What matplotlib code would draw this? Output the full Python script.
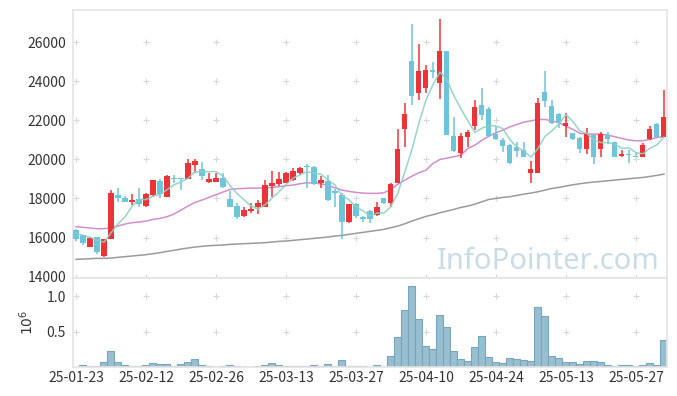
import numpy as np
import matplotlib.pyplot as plt

plt.rcParams['font.family'] = ['Noto Sans CJK KR', 'DejaVu Sans']

# trading days (Jan 23 - Jun 2, 2025)
dates = (["2025-01-%02d" % d for d in [23, 24, 31]]
         + ["2025-02-%02d" % d for d in [3, 4, 5, 6, 7, 10, 11, 12, 13, 14, 17, 18, 19, 20, 21, 24, 25, 26, 27, 28]]
         + ["2025-03-%02d" % d for d in [4, 5, 6, 7, 10, 11, 12, 13, 14, 17, 18, 19, 20, 21, 24, 25, 26, 27, 28, 31]]
         + ["2025-04-%02d" % d for d in [1, 2, 3, 4, 7, 8, 9, 10, 11, 14, 15, 16, 17, 18, 21, 22, 23, 24, 25, 28, 29, 30]]
         + ["2025-05-%02d" % d for d in [2, 7, 8, 9, 12, 13, 14, 15, 16, 19, 20, 21, 22, 23, 26, 27, 28, 29, 30]]
         + ["2025-06-02"])

opens = [16386, 16114, 15535, 16012, 15058, 15943, 18175, 18021, 17817, 17987,
         17630, 18175, 18890, 18090, 19027, 19027, 19010, 19725, 19486, 18856,
         18856, 19044, 17953, 17613, 17119, 17358, 17545, 17579, 18652, 18737,
         18805, 18941, 19299, 19673, 19588, 18805, 18907, 18379, 18175, 16812,
         17715, 17034, 17358, 17153, 18038, 17783, 18805, 21547, 25022, 23370,
         23626, 24545, 23915, 25533, 21190, 20338, 21156, 21701, 22757, 22569,
         21292, 20985, 20730, 20644, 20474, 19316, 19316, 23438, 22722, 22314,
         21718, 21326, 21087, 20508, 21241, 20542, 21241, 20866, 20185, 20253,
         20151, 20099, 21019, 21803, 21156]
highs = [16420, 16148, 16012, 16046, 15943, 18430, 18516, 18141, 18209, 18516,
         18294, 18958, 18975, 19180, 19197, 19044, 19997, 19997, 19844, 19282,
         19282, 19282, 18396, 17749, 17545, 17749, 17919, 18941, 19418, 19367,
         19367, 19537, 19622, 19742, 19673, 19146, 19197, 18464, 18260, 17715,
         17749, 17102, 17408, 17834, 18038, 18805, 21530, 22893, 26913, 25891,
         24818, 24989, 27202, 25533, 22143, 21326, 21496, 23029, 23625, 22654,
         21701, 21070, 20764, 20900, 20900, 19929, 23114, 24511, 23029, 22348,
         22348, 21360, 21121, 21581, 21241, 21411, 21411, 20900, 20474, 20474,
         20389, 20849, 21701, 21837, 23540]
lows = [15807, 15637, 15501, 15160, 14990, 15909, 17800, 17800, 17681, 17579,
        17579, 18056, 18005, 18056, 18805, 18430, 18975, 19282, 18941, 18805,
        18856, 18515, 17545, 16948, 17068, 17238, 17204, 17579, 18090, 18634,
        18771, 18907, 19197, 18515, 18686, 18515, 17885, 17579, 15909, 16761,
        16982, 16812, 16761, 17102, 17715, 17545, 18771, 20611, 22774, 23029,
        23370, 24136, 23063, 21241, 20389, 20048, 20644, 21496, 22007, 21156,
        20985, 20355, 19759, 20134, 20134, 18771, 19316, 22654, 21803, 21581,
        21121, 20985, 20338, 20270, 19742, 20134, 20781, 20134, 20099, 19793,
        20099, 20099, 20985, 21121, 21156]
closes = [15909, 15739, 15978, 15279, 15909, 18294, 18021, 17834, 17919, 17715,
          18226, 18924, 18226, 19146, 18975, 18975, 19810, 19912, 19163, 18975,
          19044, 18600, 17579, 17068, 17391, 17477, 17749, 18686, 18805, 18992,
          19316, 19384, 19554, 19588, 18720, 18941, 17919, 18294, 16812, 17715,
          17102, 16931, 16948, 17562, 17749, 18737, 20525, 22314, 23251, 24511,
          24562, 24477, 25533, 21241, 20440, 21190, 21394, 22654, 22280, 21190,
          21019, 20695, 19827, 20440, 20134, 19486, 22859, 22995, 21837, 21922,
          21837, 21053, 20542, 21292, 20134, 21292, 21019, 20134, 20270, 20202,
          20117, 20713, 21547, 21156, 22160]
# closes before the first shown day (for the 5-day average)
prior_closes = [16240, 16490, 15960, 16480]

volumes = [10000, 28000, 14000, 14000, 75000, 231000, 75000, 28000, 14000, 14000,
           28000, 57000, 42000, 42000, 14000, 42000, 75000, 113000, 28000, 14000,
           5000, 14000, 28000, 14000, 3000, 3000, 14000, 28000, 57000, 28000,
           14000, 14000, 14000, 14000, 28000, 14000, 42000, 14000, 104000, 14000,
           14000, 14000, 4000, 28000, 4000, 156000, 425000, 807000, 1151000, 679000,
           297000, 255000, 736000, 566000, 231000, 113000, 85000, 283000, 439000, 142000,
           71000, 57000, 127000, 113000, 99000, 85000, 849000, 722000, 156000, 127000,
           71000, 71000, 42000, 85000, 85000, 71000, 28000, 14000, 28000, 28000,
           14000, 28000, 57000, 28000, 382000]

ma20 = [16557, 16523, 16489, 16455, 16455, 16506, 16591, 16693, 16761, 16795,
        16846, 16931, 16982, 17068, 17204, 17408, 17613, 17800, 17919, 18056,
        18192, 18328, 18464, 18498, 18515, 18532, 18532, 18532, 18566, 18600,
        18652, 18686, 18754, 18805, 18788, 18754, 18669, 18549, 18430, 18362,
        18311, 18277, 18260, 18260, 18294, 18464, 18737, 18941, 19146, 19316,
        19452, 19793, 19997, 20065, 20134, 20219, 20559, 20730, 20985, 21190,
        21360, 21497, 21667, 21786, 21905, 21973, 22041, 22041, 21973, 21871,
        21701, 21531, 21326, 21292, 21292, 21292, 21241, 21156, 21070, 20985,
        20951, 20951, 21019, 21121, 21156]
ma60 = [14887, 14904, 14921, 14938, 14938, 14955, 14989, 15024, 15058, 15092,
        15126, 15177, 15228, 15296, 15347, 15415, 15466, 15518, 15552, 15586,
        15603, 15620, 15654, 15671, 15688, 15705, 15722, 15739, 15773, 15807,
        15824, 15858, 15892, 15926, 15960, 15995, 16029, 16080, 16114, 16165,
        16216, 16267, 16318, 16369, 16420, 16506, 16591, 16710, 16847, 16966,
        17085, 17170, 17272, 17357, 17442, 17545, 17613, 17715, 17834, 17953,
        18004, 18056, 18090, 18158, 18226, 18277, 18345, 18430, 18515, 18566,
        18634, 18703, 18754, 18805, 18839, 18873, 18907, 18941, 18975, 19009,
        19043, 19077, 19128, 19180, 19248]

price_ticks = [14000, 16000, 18000, 20000, 22000, 24000, 26000]
vol_ticks = [0.5, 1.0]

o = np.array(opens)
h = np.array(highs)
l = np.array(lows)
c = np.array(closes)
x = np.arange(len(c))
ma5 = np.convolve(np.r_[prior_closes, c], np.ones(5) / 5, mode='valid')

up_col = '#ec3438'
dn_col = '#6ec4da'
grid_col = '#d8d8d8'
spine_col = '#e4e4e4'
text_col = '#333333'

fig = plt.figure(figsize=(6.77, 3.96), dpi=100)
ax = fig.add_axes([0.1078, 0.298, 0.8774, 0.6769])
axv = fig.add_axes([0.1078, 0.0725, 0.8774, 0.2255], sharex=ax)

# price panel
cols = np.where(c >= o, up_col, dn_col)
ax.vlines(x, l, h, colors=cols, lw=1.1, zorder=3)
body_lo = np.minimum(o, c)
body_h = np.maximum(np.abs(c - o), 60)
ax.bar(x, body_h, bottom=body_lo, width=0.72, color=cols, zorder=4)

ax.plot(x, ma60, color='#9a9a9a', lw=1.1, zorder=2)
ax.plot(x, ma20, color='#cf8fcc', lw=1.1, zorder=2)
ax.plot(x, ma5, color='#8ecfc3', lw=1.1, alpha=0.9, zorder=5)

xt = x[::10]
gx, gy = np.meshgrid(xt, price_ticks)
ax.scatter(gx.ravel(), gy.ravel(), marker='+', s=22, color=grid_col, lw=0.8, zorder=1)

ax.text(0.988, 0.035, 'InfoPointer.com', transform=ax.transAxes, ha='right',
        va='baseline', fontsize=21, color='#c9dce6', family='Noto Sans', zorder=0)

ax.set_ylim(13934, 27642)
ax.set_yticks(price_ticks)
ax.set_yticklabels([str(t) for t in price_ticks])
ax.tick_params(axis='x', labelbottom=False, length=0)

# volume panel
vol = np.array(volumes) / 1e6
axv.bar(x, vol, width=1.0, color='#98bfd0', edgecolor='#78a5bb', lw=0.8, zorder=2)
gx, gy = np.meshgrid(xt, vol_ticks)
axv.scatter(gx.ravel(), gy.ravel(), marker='+', s=22, color=grid_col, lw=0.8, zorder=1)
axv.set_ylim(0, 1.258)
axv.set_yticks(vol_ticks)
axv.set_ylabel('$10^6$', color=text_col, fontsize=10, labelpad=8)
axv.set_xticks(xt)
axv.set_xticklabels([dates[i][2:] for i in xt])

ax.set_xlim(-0.43, 84.43)
for a in (ax, axv):
    a.tick_params(length=0, labelsize=10, labelcolor=text_col, pad=5)
    for s in a.spines.values():
        s.set_color(spine_col)
        s.set_linewidth(1.2)
axv.tick_params(axis='x', pad=3)

fig.savefig('out.png', dpi=100)
